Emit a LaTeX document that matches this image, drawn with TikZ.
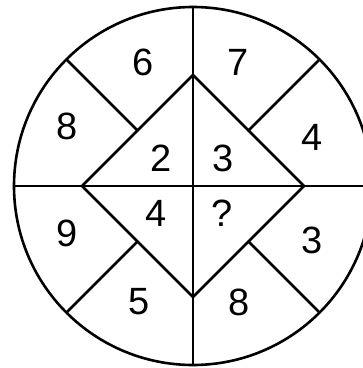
\documentclass[tikz,border=0pt]{standalone}
\usepackage{fontspec}
\setmainfont{Liberation Sans}
\usetikzlibrary{calc, positioning}

\begin{document}
\begin{tikzpicture}[
    x=1pt, y=1pt,
    line/.style={line width=2.6pt, line cap=round, line join=miter}, % Style for all lines
    num/.style={font=\fontsize{38}{38}\selectfont, inner sep=0pt} % Style for the numbers
]

    % Radius of the circle and half diagonal of the square
    \pgfmathsetmacro{\R}{179}
    \pgfmathsetmacro{\d}{111}

    % --- Fix the frame and clip the circle at the right ---
    \useasboundingbox (-193, -182) rectangle (170, 186);
    \clip (-193, -182) rectangle (170, 186);

    % --- Circle and the two diameters ---
    \coordinate (o) at (0, 0);
    \draw[line] (o) circle (\R);
    \draw[line] (-\R, 0) -- (\R, 0);
    \draw[line] (0, -\R) -- (0, \R);

    % --- Inner square standing on a corner ---
    \coordinate (top) at (0, \d);
    \coordinate (lft) at (-\d, 0);
    \coordinate (bot) at (0, -\d);
    \coordinate (rgt) at (\d, 0);
    \draw[line] (top) -- (lft) -- (bot) -- (rgt) -- cycle;

    % --- Lines from the middle of each side out to the circle ---
    \foreach \a/\p/\q in {135/top/lft, 225/lft/bot, 315/bot/rgt, 45/rgt/top}
        \draw[line] ($(\p)!0.5!(\q)$) -- (\a:\R);

    % --- Numbers ---
    \node[num] (n6)  at (-50, 124)  {6};
    \node[num] (n7)  at (45, 124)   {7};
    \node[num] (n8a) at (-126, 60)  {8};
    \node[num] (n4a) at (119, 49)   {4};
    \node[num] (n2)  at (-32, 28)   {2};
    \node[num] (n3a) at (30, 28)    {3};
    \node[num] (n9)  at (-126, -47) {9};
    \node[num] (n4b) at (-37, -27)  {4};
    \node[num] (nq)  at (29, -27)   {?};
    \node[num] (n3b) at (119, -54)  {3};
    \node[num] (n5)  at (-54, -116) {5};
    \node[num] (n8b) at (46, -116)  {8};

\end{tikzpicture}
\end{document}
